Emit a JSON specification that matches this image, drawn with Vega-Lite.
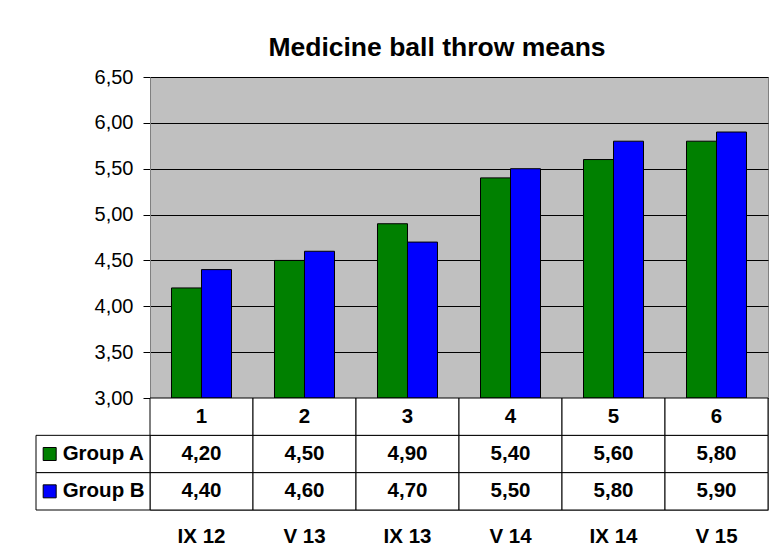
{
  "$schema": "https://vega.github.io/schema/vega-lite/v6.json",
  "autosize": {"type": "none"},
  "width": 618,
  "height": 433,
  "padding": {"left": 150, "top": 77, "right": 9, "bottom": 48},
  "background": "white",
  "title": {
    "text": "Medicine ball throw means",
    "font": "Liberation Sans",
    "fontSize": 26.5,
    "fontWeight": "bold",
    "color": "black",
    "frame": "group",
    "anchor": "middle",
    "dx": -22,
    "offset": 6
  },
  "datasets": {
    "means": [
      {"n": 1, "session": "IX 12", "group": "Group A", "value": 4.2},
      {"n": 1, "session": "IX 12", "group": "Group B", "value": 4.4},
      {"n": 2, "session": "V 13", "group": "Group A", "value": 4.5},
      {"n": 2, "session": "V 13", "group": "Group B", "value": 4.6},
      {"n": 3, "session": "IX 13", "group": "Group A", "value": 4.9},
      {"n": 3, "session": "IX 13", "group": "Group B", "value": 4.7},
      {"n": 4, "session": "V 14", "group": "Group A", "value": 5.4},
      {"n": 4, "session": "V 14", "group": "Group B", "value": 5.5},
      {"n": 5, "session": "IX 14", "group": "Group A", "value": 5.6},
      {"n": 5, "session": "IX 14", "group": "Group B", "value": 5.8},
      {"n": 6, "session": "V 15", "group": "Group A", "value": 5.8},
      {"n": 6, "session": "V 15", "group": "Group B", "value": 5.9}
    ],
    "sessions": [
      {"n": 1, "session": "IX 12"},
      {"n": 2, "session": "V 13"},
      {"n": 3, "session": "IX 13"},
      {"n": 4, "session": "V 14"},
      {"n": 5, "session": "IX 14"},
      {"n": 6, "session": "V 15"}
    ],
    "groups": [
      {"group": "Group A"},
      {"group": "Group B"}
    ]
  },
  "config": {
    "font": "Liberation Sans",
    "locale": {
      "number": {"decimal": ",", "thousands": ".", "grouping": [3], "currency": ["", " €"]}
    },
    "view": {"fill": "#C0C0C0", "stroke": "#808080", "strokeWidth": 1}
  },
  "resolve": {"scale": {"x": "independent", "y": "independent"}},
  "layer": [
    {
      "data": {"name": "means"},
      "mark": {"type": "bar", "stroke": "black", "strokeWidth": 1},
      "encoding": {
        "x": {
          "field": "n",
          "type": "ordinal",
          "scale": {"type": "band", "paddingInner": 0.4175, "paddingOuter": 0.2087},
          "axis": null
        },
        "xOffset": {
          "field": "group",
          "type": "nominal",
          "scale": {"paddingInner": 0, "paddingOuter": 0}
        },
        "y": {
          "field": "value",
          "type": "quantitative",
          "scale": {"domain": [3, 6.5], "range": [321, 0], "zero": false, "nice": false},
          "axis": {
            "values": [3, 3.5, 4, 4.5, 5, 5.5, 6, 6.5],
            "labelExpr": "replace(format(datum.value, '.2f'), '.', ',')",
            "title": null,
            "grid": true,
            "gridColor": "black",
            "gridOpacity": 1,
            "gridWidth": 1,
            "domainColor": "#808080",
            "domainWidth": 1,
            "tickColor": "black",
            "tickSize": 7,
            "labelFont": "Liberation Sans",
            "labelFontSize": 20,
            "labelColor": "black",
            "labelPadding": 10,
            "labelFlush": false,
            "labelOverlap": false
          }
        },
        "y2": {"datum": 3},
        "color": {
          "field": "group",
          "type": "nominal",
          "scale": {"domain": ["Group A", "Group B"], "range": ["#008000", "#0000FF"]},
          "legend": null
        }
      }
    },
    {
      "layer": [
        {
          "data": {"name": "means"},
          "mark": {"type": "rect", "fill": "white", "stroke": "black", "strokeWidth": 1},
          "encoding": {
            "x": {
              "field": "session", "type": "nominal",
              "sort": ["IX 12", "V 13", "IX 13", "V 14", "IX 14", "V 15"],
              "scale": {"type": "band", "paddingInner": 0, "paddingOuter": 0},
              "axis": {
                "orient": "bottom", "title": null, "domain": false, "ticks": false, "grid": false,
                "labelAngle": 0, "labelFont": "Liberation Sans", "labelFontSize": 20.5,
                "labelFontWeight": "bold", "labelColor": "black", "labelPadding": 16
              }
            },
            "y": {
              "field": "group", "type": "nominal",
              "scale": {"type": "band", "domain": ["#", "Group A", "Group B"], "range": [321, 433], "paddingInner": 0, "paddingOuter": 0},
              "axis": null
            }
          }
        },
        {
          "data": {"name": "sessions"},
          "mark": {"type": "rect", "fill": "white", "stroke": "black", "strokeWidth": 1},
          "encoding": {
            "x": {
              "field": "session", "type": "nominal",
              "sort": ["IX 12", "V 13", "IX 13", "V 14", "IX 14", "V 15"],
              "scale": {"type": "band", "paddingInner": 0, "paddingOuter": 0}
            },
            "y": {
              "datum": "#", "type": "nominal",
              "scale": {"type": "band", "domain": ["#", "Group A", "Group B"], "range": [321, 433], "paddingInner": 0, "paddingOuter": 0},
              "axis": null
            }
          }
        },
        {
          "data": {"name": "means"},
          "mark": {"type": "text", "font": "Liberation Sans", "fontSize": 20.5, "fontWeight": "bold", "color": "black"},
          "encoding": {
            "x": {
              "field": "session", "type": "nominal",
              "sort": ["IX 12", "V 13", "IX 13", "V 14", "IX 14", "V 15"],
              "scale": {"type": "band", "paddingInner": 0, "paddingOuter": 0}
            },
            "y": {
              "field": "group", "type": "nominal",
              "scale": {"type": "band", "domain": ["#", "Group A", "Group B"], "range": [321, 433], "paddingInner": 0, "paddingOuter": 0},
              "axis": null
            },
            "text": {"field": "value", "type": "quantitative", "format": ".2f"}
          }
        },
        {
          "data": {"name": "sessions"},
          "mark": {"type": "text", "font": "Liberation Sans", "fontSize": 20.5, "fontWeight": "bold", "color": "black"},
          "encoding": {
            "x": {
              "field": "session", "type": "nominal",
              "sort": ["IX 12", "V 13", "IX 13", "V 14", "IX 14", "V 15"],
              "scale": {"type": "band", "paddingInner": 0, "paddingOuter": 0}
            },
            "y": {
              "datum": "#", "type": "nominal",
              "scale": {"type": "band", "domain": ["#", "Group A", "Group B"], "range": [321, 433], "paddingInner": 0, "paddingOuter": 0},
              "axis": null
            },
            "text": {"field": "n", "type": "ordinal"}
          }
        }
      ]
    },
    {
      "data": {"name": "groups"},
      "layer": [
        {
          "mark": {"type": "rect", "fill": "white", "stroke": "black", "strokeWidth": 1},
          "encoding": {
            "x": {
              "datum": "key", "type": "nominal",
              "scale": {"type": "band", "domain": ["key"], "range": [-114, 0], "paddingInner": 0, "paddingOuter": 0},
              "axis": null
            },
            "y": {
              "field": "group", "type": "nominal",
              "scale": {"type": "band", "domain": ["#", "Group A", "Group B"], "range": [321, 433], "paddingInner": 0, "paddingOuter": 0},
              "axis": null
            }
          }
        },
        {
          "mark": {"type": "point", "shape": "square", "filled": true, "size": 169, "stroke": "black", "strokeWidth": 1, "opacity": 1},
          "encoding": {
            "x": {
              "datum": "key", "type": "nominal", "bandPosition": 0.12,
              "scale": {"type": "band", "domain": ["key"], "range": [-114, 0], "paddingInner": 0, "paddingOuter": 0},
              "axis": null
            },
            "y": {
              "field": "group", "type": "nominal",
              "scale": {"type": "band", "domain": ["#", "Group A", "Group B"], "range": [321, 433], "paddingInner": 0, "paddingOuter": 0},
              "axis": null
            },
            "color": {"field": "group", "type": "nominal", "legend": null}
          }
        },
        {
          "mark": {"type": "text", "align": "left", "font": "Liberation Sans", "fontSize": 20.5, "fontWeight": "bold", "color": "black"},
          "encoding": {
            "x": {
              "datum": "key", "type": "nominal", "bandPosition": 0.234,
              "scale": {"type": "band", "domain": ["key"], "range": [-114, 0], "paddingInner": 0, "paddingOuter": 0},
              "axis": null
            },
            "y": {
              "field": "group", "type": "nominal",
              "scale": {"type": "band", "domain": ["#", "Group A", "Group B"], "range": [321, 433], "paddingInner": 0, "paddingOuter": 0},
              "axis": null
            },
            "text": {"field": "group", "type": "nominal"}
          }
        }
      ]
    }
  ]
}
